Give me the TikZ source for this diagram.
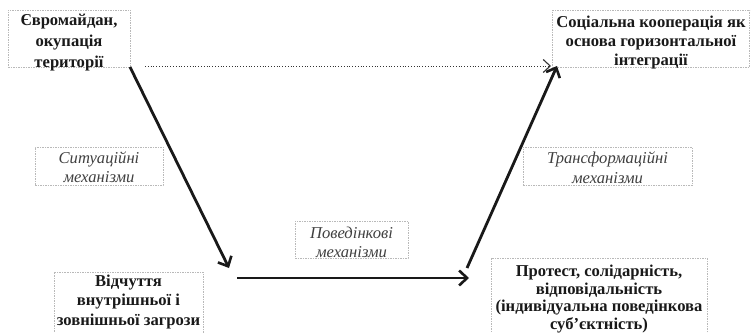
\documentclass[tikz,border=0pt]{standalone}
\usepackage{fontspec}
\setmainfont{Liberation Serif}
\usetikzlibrary{arrows.meta}
\begin{document}
\begin{tikzpicture}[x=1pt,y=-1pt,
  frame/.style={draw=gray!55, dashed, dash pattern=on 1.5pt off 1pt, line width=0.6pt, inner sep=0pt},
  btext/.style={inner sep=0pt, align=center, font=\bfseries\fontsize{16.6}{#1}\selectfont, text=black!90},
  btext/.default=20,
  itext/.style={inner sep=0pt, align=center, font=\itshape\fontsize{16.6}{19.5}\selectfont, text=black!75},
  bigarrow/.style={line width=2.8pt, black!90, -{Straight Barb[length=8pt,width=15pt,line width=2.6pt]}},
  dotarrow/.style={line width=0.8pt, dotted, black!80, -{Straight Barb[length=7pt,width=13pt,line width=1.1pt]}}]
\useasboundingbox (0,0) rectangle (754,332);
\begin{scope}
\clip (0,0) rectangle (754,332);
\node[frame, minimum width=122, minimum height=57] (a) at (69,38.5) {};
\node[btext=21] (at) at (69,42.5) {Євромайдан,\\окупація\\території};
\node[frame, minimum width=197, minimum height=57] (b) at (651,38.5) {};
\node[btext=19] (bt) at (651,42.5) {Соціальна кооперація як\\основа горизонтальної\\інтеграції};
\node[frame, minimum width=128, minimum height=38] (m1) at (99,166) {};
\node[itext] (m1t) at (99,167) {Ситуаційні\\механізми};
\node[frame, minimum width=169, minimum height=38] (m2) at (607.5,166) {};
\node[itext] (m2t) at (607.5,167.5) {Трансформаційні\\механізми};
\node[frame, minimum width=113, minimum height=37] (m3) at (351.5,239.5) {};
\node[itext] (m3t) at (351.5,242.5) {Поведінкові\\механізми};
\node[frame, minimum width=149, minimum height=64, anchor=north] (c) at (128.5,272) {};
\node[btext=19.5] (ct) at (128.5,302) {Відчуття\\внутрішньої і\\зовнішньої загрози};
\node[frame, minimum width=216, minimum height=78, anchor=north] (d) at (599,258) {};
\node[btext=17.7] (dt) at (599,299) {Протест, солідарність,\\відповідальність\\(індивідуальна поведінкова\\суб’єктність)};
\end{scope}
\coordinate (a1) at (145,66);
\coordinate (b1) at (551,66);
\coordinate (p1) at (130,67);
\coordinate (p2) at (229,268);
\coordinate (p3) at (237,278);
\coordinate (p4) at (469,278);
\coordinate (p5) at (467,268);
\coordinate (p6) at (557,66);
\draw[dotarrow] (a1) -- (b1);
\draw[bigarrow] (p1) -- (p2);
\draw[bigarrow] (p3) -- (p4);
\draw[bigarrow] (p5) -- (p6);
\end{tikzpicture}
\end{document}
